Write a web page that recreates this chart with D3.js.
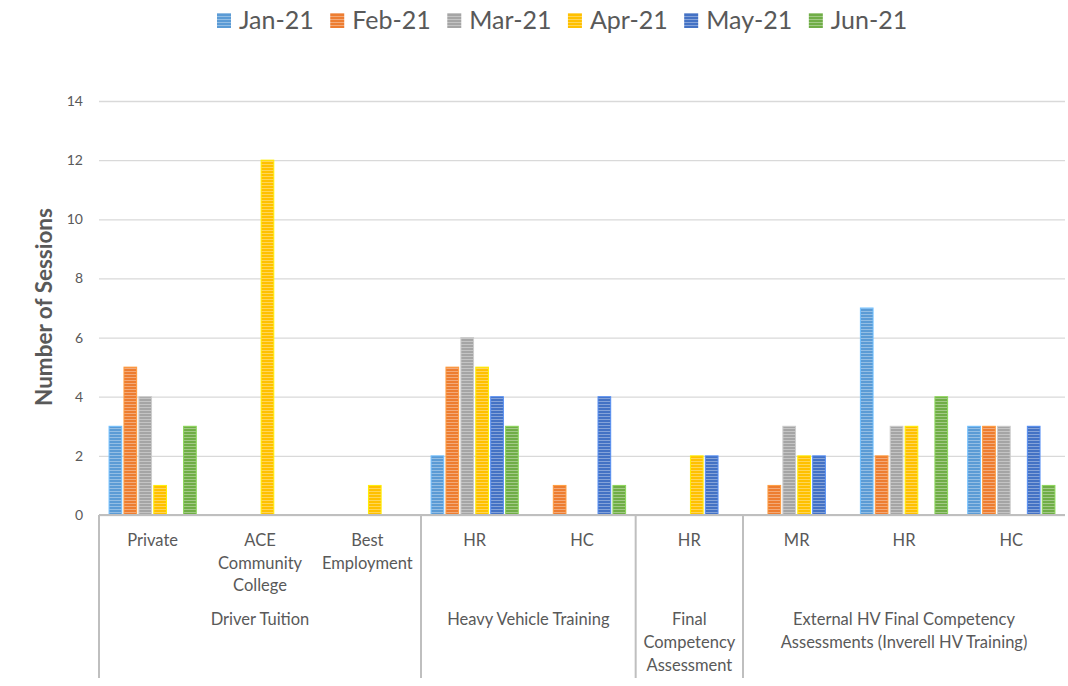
<!DOCTYPE html>
<head>
  <meta charset="utf-8">
  <script src="https://cdn.jsdelivr.net/npm/d3@7"></script>
  <style>
    body { margin: 0; background: #fff; }
    text { font-family: Lato, "Open Sans", sans-serif; fill: #595959; }
  </style>
</head>
<body>
  <svg width="1068" height="686"></svg>
  <script>

  // months (series)
  var months = ["Jan-21", "Feb-21", "Mar-21", "Apr-21", "May-21", "Jun-21"];
  var colors = ["#5b9bd5", "#ed7d31", "#a5a5a5", "#ffc000", "#4472c4", "#70ad47"];

  // sub categories, lines of each label
  var subLabels = [
    ["Private"], ["ACE", "Community", "College"], ["Best", "Employment"],
    ["HR"], ["HC"],
    ["HR"],
    ["MR"], ["HR"], ["HC"]
  ];

  // top level groups and how many sub categories each holds
  var groupLabels = [
    ["Driver Tuition"],
    ["Heavy Vehicle Training"],
    ["Final", "Competency", "Assessment"],
    ["External HV Final Competency", "Assessments (Inverell HV Training)"]
  ];
  var groupSizes = [3, 2, 1, 3];

  // sessions per sub category, one array per month
  var jan = [3, 0, 0, 2, 0, 0, 0, 7, 3];
  var feb = [5, 0, 0, 5, 1, 0, 1, 2, 3];
  var mar = [4, 0, 0, 6, 0, 0, 3, 3, 3];
  var apr = [1, 12, 1, 5, 0, 2, 2, 3, 0];
  var may = [0, 0, 0, 4, 4, 2, 2, 0, 3];
  var jun = [3, 0, 0, 3, 1, 0, 0, 4, 1];
  var series = [jan, feb, mar, apr, may, jun];

  var yTicks = [0, 2, 4, 6, 8, 10, 12, 14];

  var svg = d3.select("svg");

  var x0 = d3.scaleBand()
      .domain(d3.range(subLabels.length))
      .range([99, 1065])
      .padding(0);

  var x1 = d3.scaleBand()
      .domain(d3.range(months.length))
      .range([0, x0.bandwidth()])
      .paddingInner(0.15)
      .paddingOuter(0.675);

  var y = d3.scaleLinear()
      .domain([0, 14])
      .range([515, 101]);

  var color = d3.scaleOrdinal().domain(d3.range(months.length)).range(colors);

  // striped fills
  var defs = svg.append("defs");
  colors.forEach(function(c, i) {
    var p = defs.append("pattern")
        .attr("id", "stripe" + i)
        .attr("patternUnits", "userSpaceOnUse")
        .attr("width", 6)
        .attr("height", 3);
    p.append("rect").attr("width", 6).attr("height", 3).attr("fill", c);
    p.append("rect").attr("y", 2).attr("width", 6).attr("height", 1)
        .attr("fill", "#fff").attr("fill-opacity", 0.35);
  });

  // grid
  svg.append("g")
      .attr("transform", "translate(99,0)")
      .call(d3.axisLeft(y)
        .tickValues(yTicks)
        .tickSize(-(1065 - 99))
        .tickPadding(16))
      .call(function(g) {
        g.select(".domain").remove();
        g.selectAll(".tick line").attr("stroke", "#d9d9d9").attr("stroke-width", 1.3);
        g.selectAll(".tick text").attr("font-size", 14).attr("fill", "#595959");
      });

  // bars
  var bars = [];
  series.forEach(function(vals, si) {
    vals.forEach(function(v, ci) {
      if (v > 0) bars.push({ s: si, c: ci, v: v });
    });
  });

  svg.append("g")
    .selectAll("rect")
    .data(bars)
    .enter().append("rect")
      .attr("x", function(d) { return x0(d.c) + x1(d.s); })
      .attr("y", function(d) { return y(d.v); })
      .attr("width", x1.bandwidth())
      .attr("height", function(d) { return y(0) - y(d.v); })
      .attr("fill", function(d) { return "url(#stripe" + d.s + ")"; })
      .attr("stroke", function(d) { return d3.color(color(d.s)).brighter(0.6); })
      .attr("stroke-width", 1);

  // category axis
  var axis = svg.append("g");
  axis.append("line")
      .attr("x1", 99).attr("x2", 1065)
      .attr("y1", y(0)).attr("y2", y(0))
      .attr("stroke", "#bfbfbf").attr("stroke-width", 2);

  var start = 0, bounds = [0];
  groupSizes.forEach(function(n) { start += n; bounds.push(start); });

  axis.selectAll(".divider")
    .data(bounds.slice(0, -1))
    .enter().append("line")
      .attr("x1", function(d) { return x0(d); })
      .attr("x2", function(d) { return x0(d); })
      .attr("y1", y(0)).attr("y2", 678)
      .attr("stroke", "#bfbfbf").attr("stroke-width", 2);

  axis.selectAll(".sub")
    .data(subLabels)
    .enter().append("text")
      .attr("text-anchor", "middle")
      .attr("font-size", 16.5)
      .attr("transform", function(d, i) { return "translate(" + (x0(i) + x0.bandwidth() / 2) + ",546)"; })
    .selectAll("tspan")
    .data(function(d) { return d; })
    .enter().append("tspan")
      .attr("x", 0)
      .attr("y", function(d, i) { return i * 22.5; })
      .text(function(d) { return d; });

  axis.selectAll(".grp")
    .data(groupLabels)
    .enter().append("text")
      .attr("text-anchor", "middle")
      .attr("font-size", 16.5)
      .attr("transform", function(d, i) {
        var a = x0(bounds[i]), b = x0(bounds[i + 1] - 1) + x0.bandwidth();
        return "translate(" + ((a + b) / 2) + ",625)";
      })
    .selectAll("tspan")
    .data(function(d) { return d; })
    .enter().append("tspan")
      .attr("x", 0)
      .attr("y", function(d, i) { return i * 23; })
      .text(function(d) { return d; });

  // y title
  svg.append("text")
      .attr("transform", "translate(52,307) rotate(-90)")
      .attr("text-anchor", "middle")
      .attr("font-size", 22.5)
      .attr("font-weight", "bold")
      .text("Number of Sessions");

  // legend
  var legend = svg.append("g").attr("transform", "translate(0,20)");
  var items = legend.selectAll("g")
    .data(months)
    .enter().append("g");
  items.append("rect")
      .attr("y", -7)
      .attr("width", 14).attr("height", 15)
      .attr("fill", function(d, i) { return "url(#stripe" + i + ")"; });
  items.append("text")
      .attr("x", 22).attr("y", 9)
      .attr("font-size", 25)
      .text(function(d) { return d; });
  var lx = 217;
  items.each(function() {
    d3.select(this).attr("transform", "translate(" + lx + ",0)");
    lx += 22 + d3.select(this).select("text").node().getComputedTextLength() + 16.5;
  });

  </script>
</body>
